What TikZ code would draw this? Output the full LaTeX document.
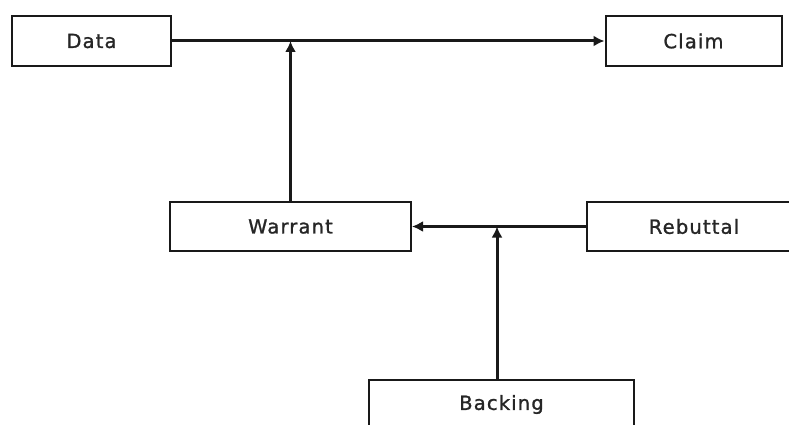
\documentclass[tikz,border=0pt]{standalone}
\usepackage{fontspec}
\setmainfont{DejaVu Sans}
\newfontfamily\boxfont[LetterSpace=6,FakeBold=1.2]{DejaVu Sans}
\usetikzlibrary{arrows.meta}
\begin{document}
\begin{tikzpicture}[x=1pt,y=1pt,
  box/.style={draw=black!90, line width=2pt, fill=white, inner sep=0pt,
    font=\boxfont\fontsize{19.5}{23}\selectfont, text=black!85},
  conn/.style={draw=black!90, line width=3pt},
  arr/.style={conn, -{Latex[length=11pt,width=11pt]}}]
\useasboundingbox (0,0) rectangle (789,-425);
\clip (0,0) rectangle (789,-425);
\fill[white] (0,0) rectangle (789,-425);
\node[box, minimum width=159pt, minimum height=50pt] (data) at (91.5,-41) {Data};
\node[box, minimum width=176pt, minimum height=50pt] (claim) at (693.5,-41) {Claim};
\node[box, minimum width=241pt, minimum height=49pt] (warrant) at (290.5,-226.5) {Warrant};
\node[box, minimum width=214pt, minimum height=49pt] (rebuttal) at (694,-226.5) {Rebuttal};
\node[box, minimum width=265pt, minimum height=49pt] (backing) at (501.5,-404.5) {Backing};
\coordinate (j1) at (290.5,-41);
\coordinate (j2) at (497,-226.5);
\coordinate (b1) at (497,-380);
\draw[arr] (data.east) -- (claim.west);
\draw[arr] (warrant.north) -- (j1);
\draw[arr] (rebuttal.west) -- (warrant.east);
\draw[arr] (b1) -- (j2);
\end{tikzpicture}
\end{document}
